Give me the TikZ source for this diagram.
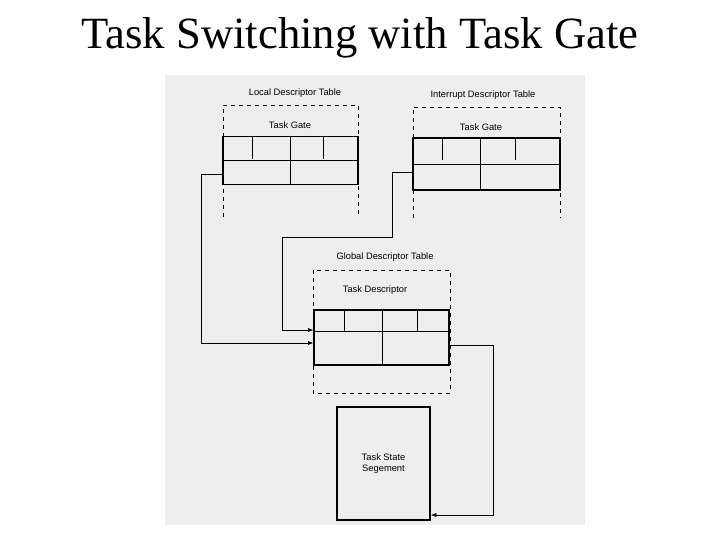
\documentclass[tikz,border=0pt]{standalone}
\usepackage{fontspec}
\setmainfont{Liberation Serif}
\newfontfamily\labelfont{Liberation Sans}
\usetikzlibrary{arrows.meta}
\begin{document}
\begin{tikzpicture}[x=0.75pt,y=-0.75pt,
  gate/.style={rectangle,draw,line width=1.2pt,inner sep=0pt,minimum width=101pt,minimum height=36pt},
  tbl/.style={draw,dashed,thin},
  lbl/.style={font=\labelfont\fontsize{7}{8}\selectfont,inner sep=1pt},
  link/.style={-{Latex[length=4pt]},thin}]
  \useasboundingbox (0,0) rectangle (720,540);
  \fill[gray!13] (165,75) rectangle (585,525);
  \node[font=\fontsize{33.5}{38}\selectfont] (title) at (360,38) {Task Switching with Task Gate};

  % local descriptor table
  \draw[tbl] (223,217) -- (223,105) -- (358,105) -- (358,217);
  \node[lbl] (ldtl) at (295,93) {Local Descriptor Table};
  \node[lbl] (ldtg) at (290,125) {Task Gate};
  \node[gate,fill=gray!13] (ldt) at (290.5,160.5) {};
  \draw (ldt.west) -- (ldt.east);
  \draw (ldt.north west) ++(30,0) -- ++(0,23);
  \draw (ldt.north west) ++(101,0) -- ++(0,23);
  \draw (ldt.north) -- (ldt.south);

  % interrupt descriptor table
  \draw[tbl] (413,218) -- (413,107) -- (560,107) -- (560,218);
  \node[lbl] (idtl) at (483,95) {Interrupt Descriptor Table};
  \node[lbl] (idtg) at (481,127) {Task Gate};
  \node[gate,fill=gray!13,minimum width=110pt,minimum height=39pt] (idt) at (486.5,164) {};
  \draw (idt.west) -- (idt.east);
  \draw (idt.north west) ++(30,0) -- ++(0,23);
  \draw (idt.north west) ++(103,0) -- ++(0,23);
  \draw (idt.north west) ++(68,0) -- ++(0,52);

  % global descriptor table
  \draw[tbl] (313,270) rectangle (450,393);
  \node[lbl] (gdtl) at (385,257) {Global Descriptor Table};
  \node[lbl] (gdtd) at (375,290) {Task Descriptor};
  \node[gate,fill=gray!13,minimum height=41pt] (gdt) at (381.5,337.5) {};
  \draw (gdt.north west) ++(0,22) -- ++(137,0);
  \draw (gdt.north west) ++(31,0) -- ++(0,22);
  \draw (gdt.north west) ++(104,0) -- ++(0,22);
  \draw (gdt.north west) ++(69,0) -- ++(0,55);

  % task state segment
  \node[rectangle,draw,line width=1.2pt,minimum width=70pt,minimum height=85pt,
        lbl,align=center] (tss) at (383.5,463.5) {Task State\\Segement};

  % links
  \coordinate (a1) at (201,174);
  \coordinate (b1) at (392,172);
  \coordinate (b2) at (282,237);
  \coordinate (c1) at (493,345);
  \draw[link] (ldt.west |- a1) -- (a1) |- (gdt.west |- 0,343);
  \draw[link] (idt.west |- b1) -- (b1) |- (b2) |- (gdt.west |- 0,330);
  \draw[link] (gdt.east |- c1) -- (c1) |- (tss.east |- 0,515);
\end{tikzpicture}
\end{document}
